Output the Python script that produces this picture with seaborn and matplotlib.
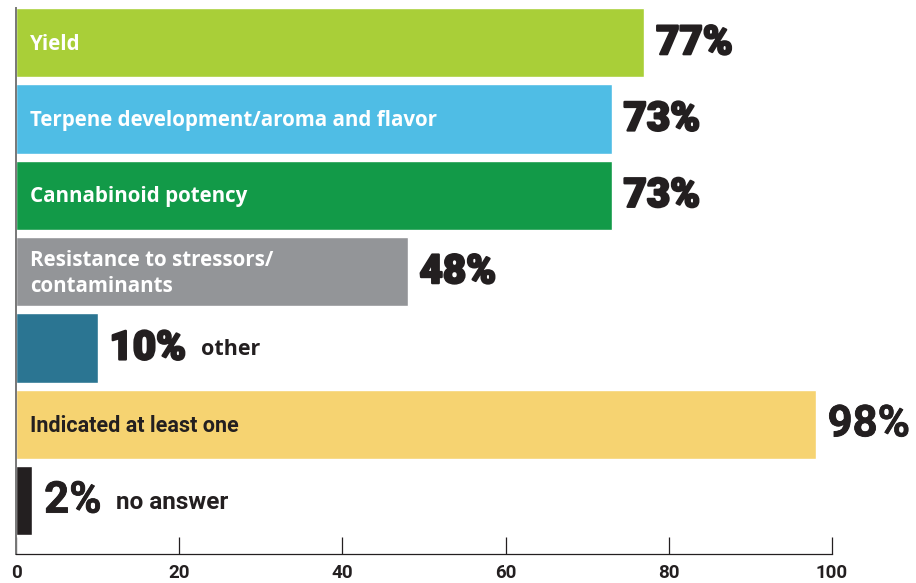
import matplotlib
matplotlib.use("Agg")
import matplotlib.pyplot as plt
import matplotlib.patheffects as pe
import seaborn as sns
import pandas as pd

# Survey results: share of respondents naming each trait
categories = [
    "Yield",
    "Terpene development/aroma and flavor",
    "Cannabinoid potency",
    "Resistance to stressors/\ncontaminants",
    "other",
    "Indicated at least one",
    "no answer",
]
values = [77, 73, 73, 48, 10, 98, 2]
colors = ["#A9CF38", "#4FBDE5", "#129A48", "#939598", "#2B7592", "#F6D371", "#231F20"]
tick_values = [0, 20, 40, 60, 80, 100]

# which labels sit inside the bar vs. next to the value
inside = [True, True, True, True, False, True, False]
inside_color = ["white", "white", "white", "white", None, "#231F20", None]
value_style = ["heavy", "heavy", "heavy", "heavy", "heavy", "narrow", "narrow"]

DARK = "#231F20"

df = pd.DataFrame({"category": categories, "value": values})

sns.set_theme(style="white")
plt.rcParams["font.family"] = ["Open Sans", "DejaVu Sans"]

fig = plt.figure(figsize=(9.16, 5.83), dpi=100)
ax = fig.add_axes([0.01747, 0.0497, 0.8908, 0.9366])

sns.barplot(
    data=df, x="value", y="category", hue="category", order=categories,
    hue_order=categories, palette=colors, orient="h", width=0.91,
    saturation=1, legend=False, ax=ax,
)

ax.set_xlim(0, 100)
ax.set_ylim(6.70, -0.455)
ax.set_xticks(tick_values)
ax.set_xticklabels([str(t) for t in tick_values], fontfamily=["Roboto", "DejaVu Sans"],
                   fontweight="bold", fontsize=13.5, color=DARK)
ax.set_yticks([])
ax.set_xlabel("")
ax.set_ylabel("")
ax.tick_params(axis="x", direction="in", length=12, width=0.9, color=DARK,
               pad=7, bottom=True)
for side in ("top", "right"):
    ax.spines[side].set_visible(False)
ax.spines["bottom"].set_color(DARK)
ax.spines["bottom"].set_linewidth(0.9)
ax.spines["left"].set_color("#777777")
ax.spines["left"].set_linewidth(1.4)

fat = [pe.withStroke(linewidth=1.6, foreground=DARK)]
heavy = dict(fontfamily=["Roboto", "DejaVu Sans"], fontweight="black", fontsize=29,
             color=DARK, path_effects=fat)
narrow = dict(fontfamily=["Roboto", "DejaVu Sans"], fontweight="bold", fontsize=31.5,
              color=DARK, path_effects=[pe.withStroke(linewidth=0.6, foreground=DARK)])

for i, (cat, val) in enumerate(zip(categories, values)):
    style = heavy if value_style[i] == "heavy" else narrow
    t = ax.text(val + 1.45, i, f"{val}%", va="center", ha="left", **style)
    if inside[i]:
        if cat == "Indicated at least one":
            fam = ["Roboto", "DejaVu Sans"]
            fs = 15.5
        else:
            fam = ["Open Sans", "DejaVu Sans"]
            fs = 14.8
        ax.text(1.75, i + 0.02, cat, va="center", ha="left", color=inside_color[i],
                fontfamily=fam, fontweight="bold", fontsize=fs, linespacing=1.3)
    else:
        fig.canvas.draw()
        bb = t.get_window_extent().transformed(ax.transData.inverted())
        if cat == "other":
            fam, fs = ["Open Sans", "DejaVu Sans"], 15.5
        else:
            fam, fs = ["Roboto", "DejaVu Sans"], 17.5
        ax.text(bb.x1 + 1.8, i + 0.02, cat, va="center", ha="left", color=DARK,
                fontfamily=fam, fontweight="bold", fontsize=fs)

fig.savefig("out.png", dpi=100)
